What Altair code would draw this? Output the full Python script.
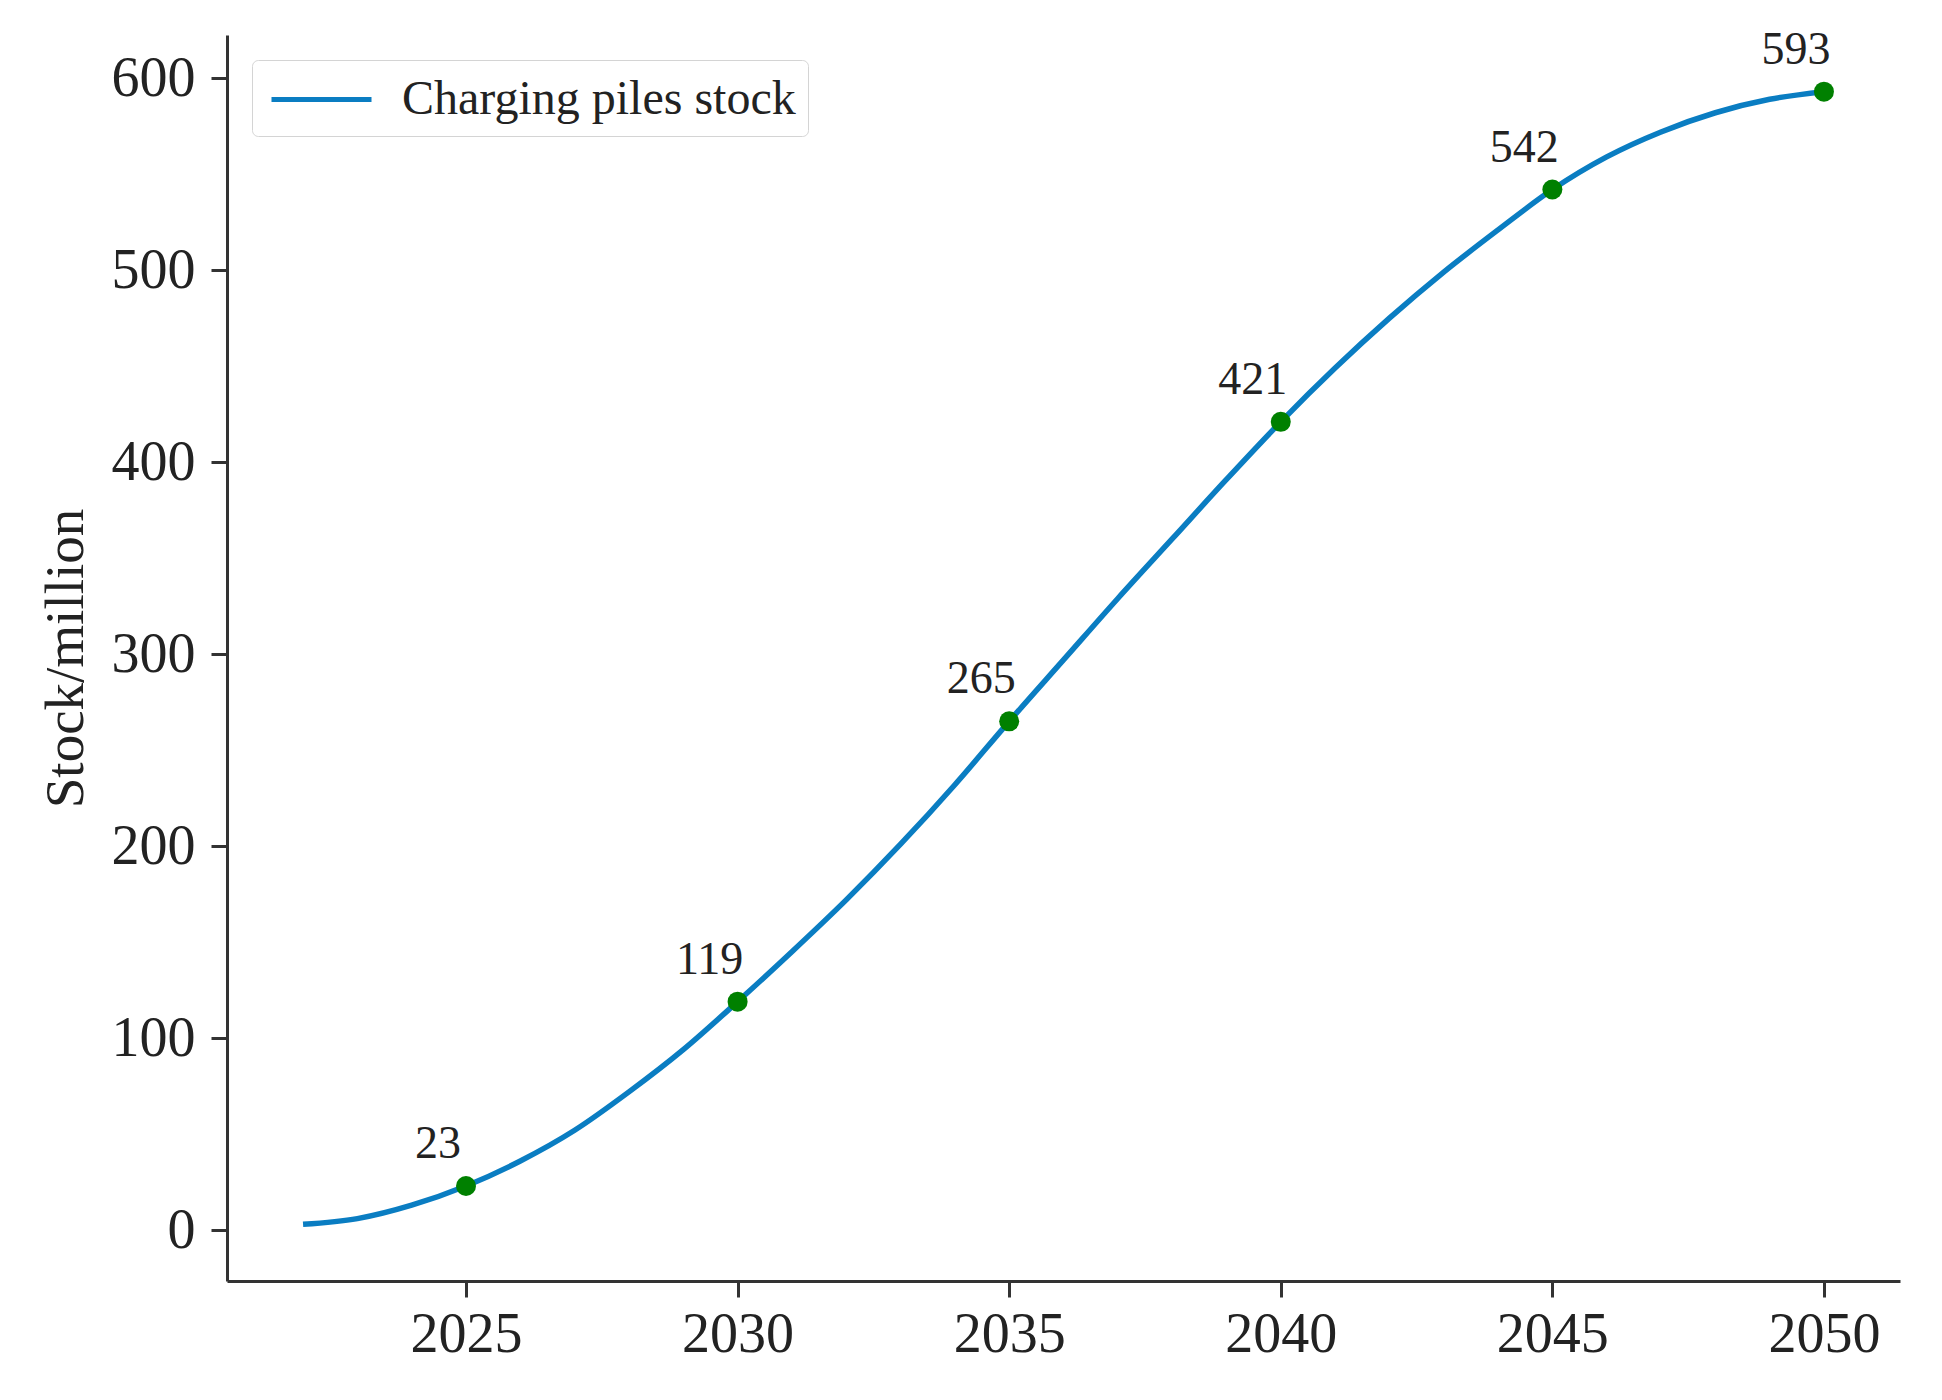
import altair as alt
import pandas as pd

years = list(range(2022, 2051))
stock = [3, 6, 13, 23, 36, 52, 72, 94, 119, 145, 172, 201, 232, 265,
         297, 329, 360, 391, 421, 449, 475, 499, 521, 542, 559, 572, 582, 589, 593]
label_years = [2025, 2030, 2035, 2040, 2045, 2050]
label_values = [23, 119, 265, 421, 542, 593]
series_name = "Charging piles stock"
x_ticks = [2025, 2030, 2035, 2040, 2045, 2050]
y_ticks = [0, 100, 200, 300, 400, 500, 600]

FONT = "Liberation Serif"
LINE_COLOR = "#0a7dc2"

df = pd.DataFrame({"year": years, "stock": stock, "series": [series_name] * len(years)})
dl = pd.DataFrame({"year": label_years, "stock": label_values})

xscale = alt.Scale(domain=[2020.6, 2051.4], nice=False, zero=False)
yscale = alt.Scale(domain=[-26.5, 622.5], nice=False, zero=False)

xaxis = alt.Axis(values=x_ticks, format="d", title=None, grid=False,
                 labelFont=FONT, labelFontSize=56, labelColor="#222",
                 tickSize=16, tickWidth=3, tickColor="#333",
                 domainColor="#333", domainWidth=3, labelPadding=10,
                 labelFlush=False)
yaxis = alt.Axis(values=y_ticks, format="d", title="Stock/million", grid=False,
                 labelFont=FONT, labelFontSize=56, labelColor="#222",
                 tickSize=16, tickWidth=3, tickColor="#333",
                 domainColor="#333", domainWidth=3, labelPadding=16,
                 titleFont=FONT, titleFontSize=55, titleColor="#222",
                 titleFontWeight="normal", titleX=-162, titleY=623,
                 titleAlign="center", titleBaseline="middle", titleAngle=-90,
                 labelFlush=False)

line = alt.Chart(df).mark_line(strokeWidth=5.5, interpolate="monotone").encode(
    x=alt.X("year:Q", scale=xscale, axis=xaxis),
    y=alt.Y("stock:Q", scale=yscale, axis=yaxis),
    color=alt.Color("series:N",
                    scale=alt.Scale(domain=[series_name], range=[LINE_COLOR]),
                    legend=alt.Legend(title=None, orient="none", legendX=25, legendY=25,
                                      symbolType="M-2,0H2", symbolStrokeWidth=5,
                                      symbolSize=2500, symbolOffset=30,
                                      symbolStrokeColor=LINE_COLOR,
                                      symbolFillColor="transparent",
                                      labelFont=FONT, labelFontSize=48,
                                      labelColor="#222", labelLimit=0,
                                      labelOffset=53, padding=12, cornerRadius=6,
                                      strokeColor="#d4d4d4", fillColor="white")),
)

pts = alt.Chart(dl).mark_circle(size=400, color="#008000", opacity=1).encode(
    x=alt.X("year:Q", scale=xscale),
    y=alt.Y("stock:Q", scale=yscale),
)

txt = alt.Chart(dl).mark_text(font=FONT, fontSize=46, color="#222", dx=-28, dy=-28,
                              align="center", baseline="alphabetic").encode(
    x=alt.X("year:Q", scale=xscale),
    y=alt.Y("stock:Q", scale=yscale),
    text=alt.Text("stock:Q", format="d"),
)

chart = alt.layer(line, pts, txt).properties(
    width=1673, height=1246,
    autosize=alt.AutoSizeParams(type="none"),
    padding={"left": 219, "top": 27, "right": 34, "bottom": 110},
    background="white",
).configure_view(stroke=None)

chart.save("out.html", embed_options={"renderer": "svg", "actions": False})
